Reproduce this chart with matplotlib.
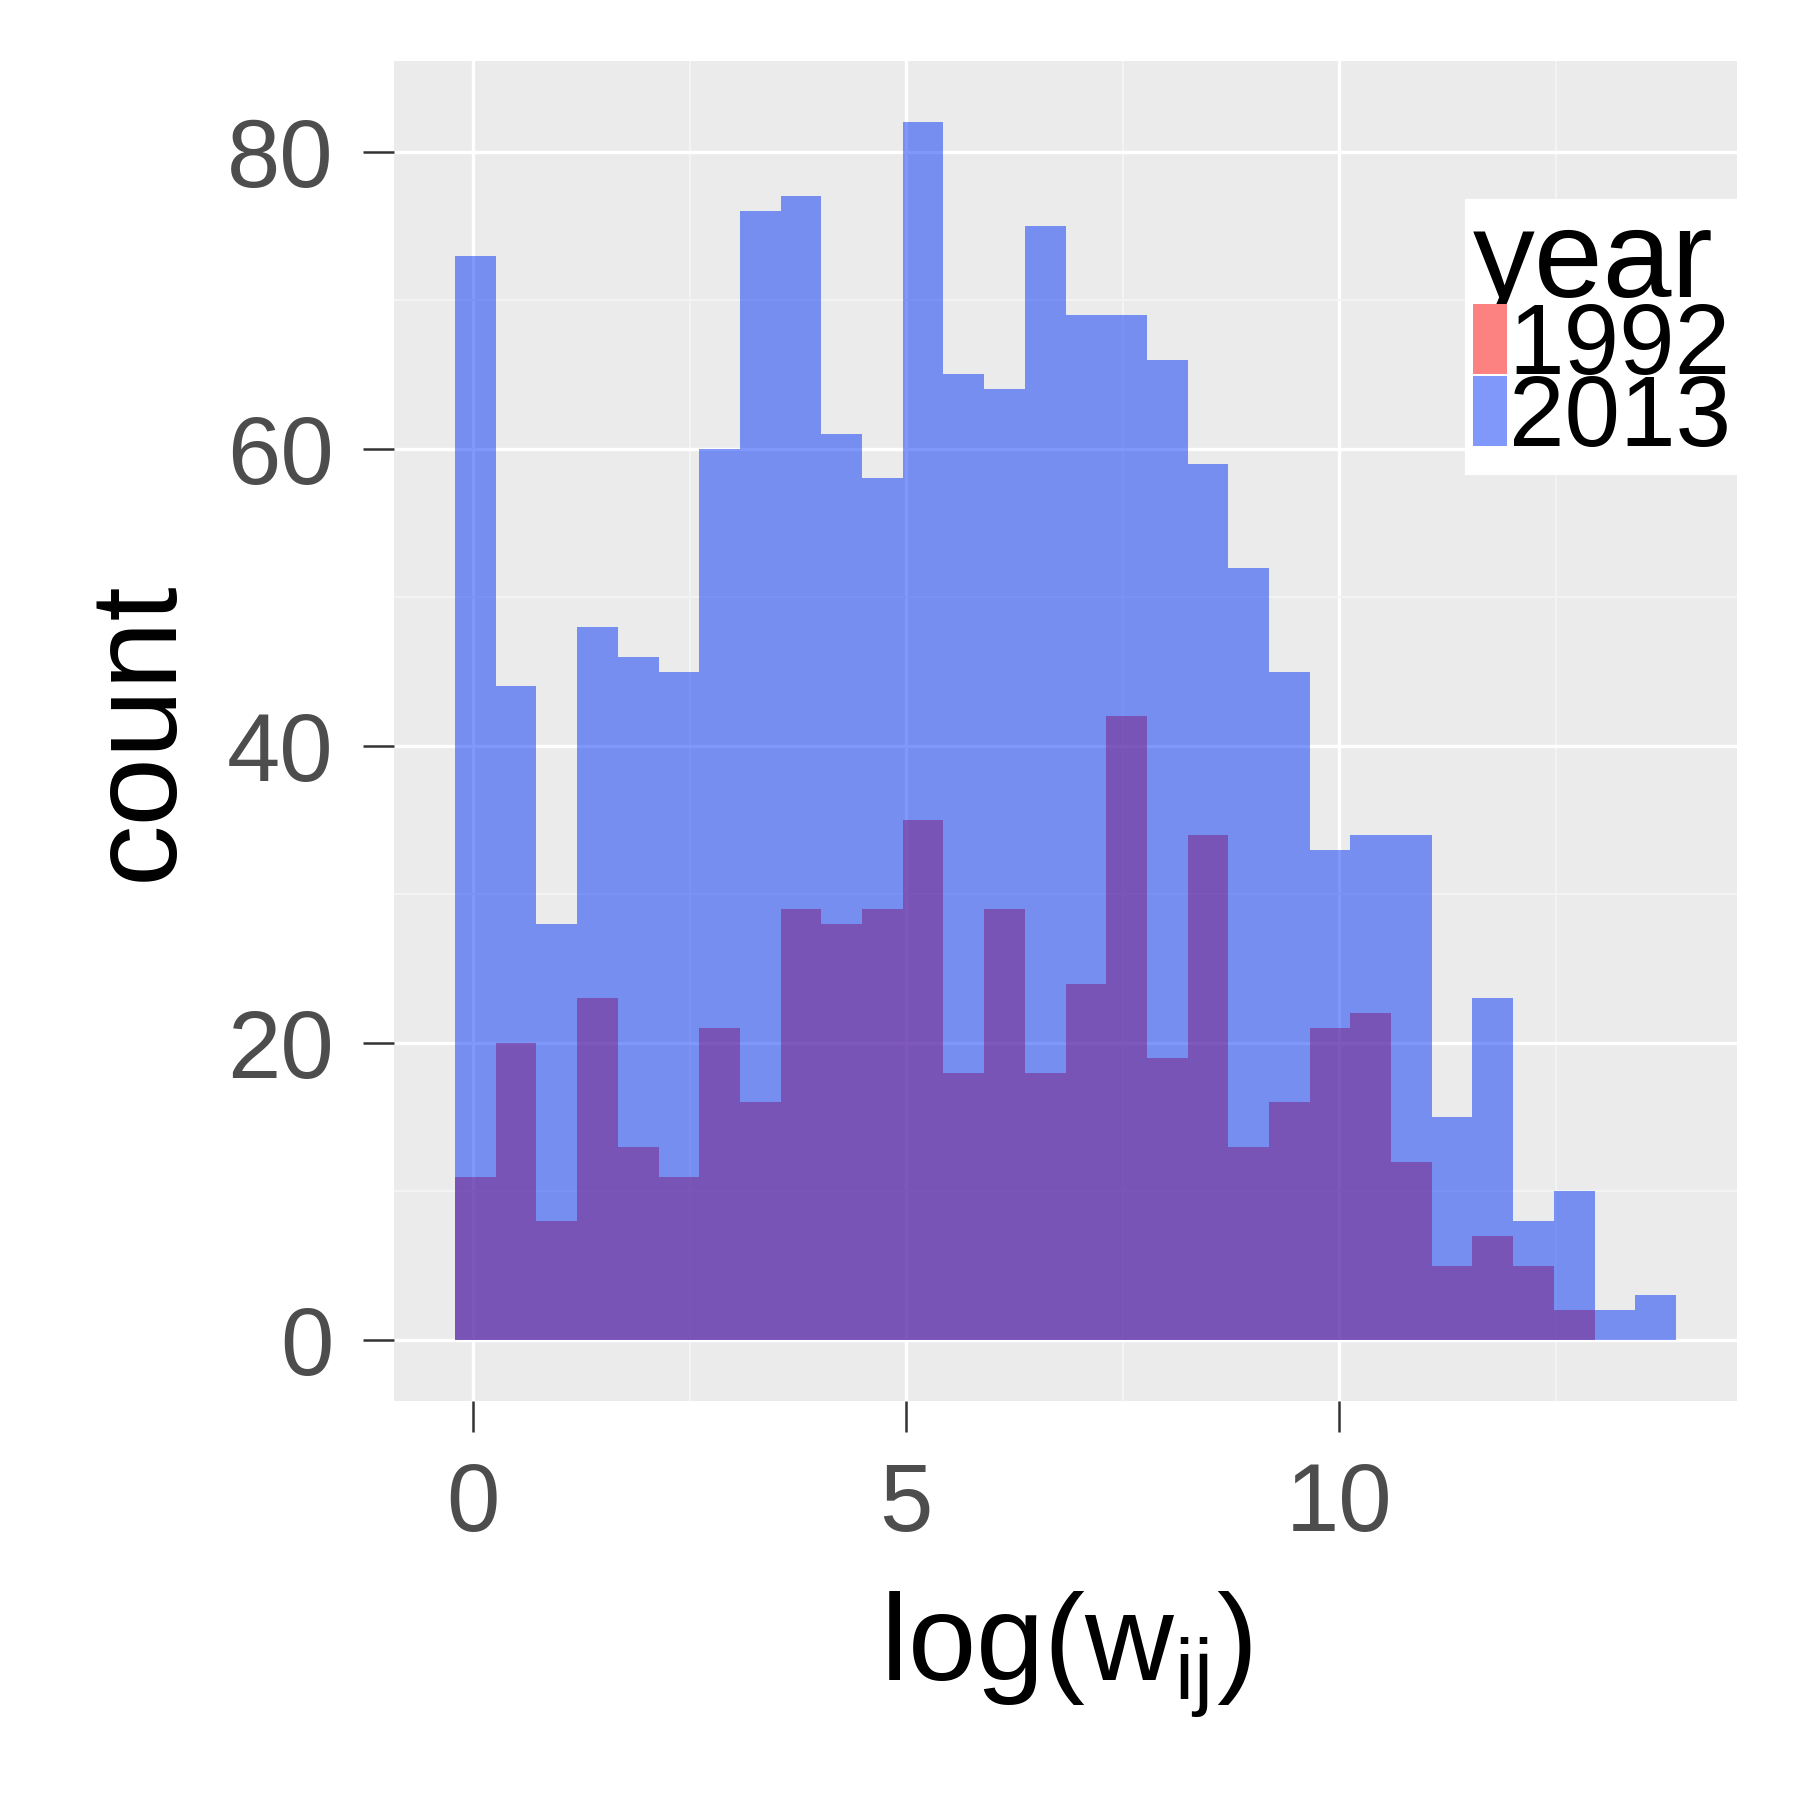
import matplotlib
matplotlib.use("Agg")
import matplotlib.pyplot as plt
from matplotlib.patches import Patch
import numpy as np

plt.rcParams['font.family'] = ['Liberation Sans', 'DejaVu Sans']
plt.rcParams['mathtext.fontset'] = 'custom'
plt.rcParams['mathtext.rm'] = 'Liberation Sans'
plt.rcParams['mathtext.it'] = 'Liberation Sans'

# histogramme : 30 classes, largeur 0.47
bin_start = -0.21
bin_width = 0.47
edges = bin_start + bin_width * np.arange(31)

counts_1992 = [11, 20, 8, 23, 13, 11, 21, 16, 29, 28, 29, 35, 18, 29, 18,
               24, 42, 19, 34, 13, 16, 21, 22, 12, 5, 7, 5, 2, 0, 0]
counts_2013 = [73, 44, 28, 48, 46, 45, 60, 76, 77, 61, 58, 82, 65, 64, 75,
               69, 69, 66, 59, 52, 45, 33, 34, 34, 15, 23, 8, 10, 2, 3]

years = ["1992", "2013"]
colors = ["#FA0505", "#0032F5"]
key_colors = ["#FC8282", "#8098FA"]  # couleurs avec alpha sur fond blanc
alpha = 0.5

fig = plt.figure(figsize=(6, 6), dpi=300)
ax = fig.add_axes([0.2189, 0.2217, 0.7461, 0.7444])
ax.set_facecolor("#EBEBEB")

for counts, col in zip([counts_1992, counts_2013], colors):
    ax.bar(edges[:-1], counts, width=bin_width, align='edge',
           color=col, alpha=alpha, linewidth=0, zorder=3)

ax.set_xlim(-0.915, 14.595)
ax.set_ylim(-4.1, 86.1)
ax.set_xticks([0, 5, 10])
ax.set_yticks([0, 20, 40, 60, 80])
ax.set_xticks([2.5, 7.5, 12.5], minor=True)
ax.set_yticks([10, 30, 50, 70], minor=True)
ax.grid(which='major', color='white', linewidth=0.8, zorder=1)
ax.grid(which='minor', color='#F5F5F5', linewidth=0.4, zorder=1)
ax.set_axisbelow(True)
for s in ax.spines.values():
    s.set_visible(False)

ax.tick_params(which='major', length=7.5, width=0.6, color='#333333',
               labelsize=23, labelcolor='#4D4D4D', pad=7)
ax.tick_params(which='minor', length=0)

ax.set_xlabel(r'$\mathregular{log(w_{ij})}$', fontsize=29.5, labelpad=9)
ax.set_ylabel('count', fontsize=29.5, labelpad=7.2)

handles = [Patch(facecolor=c, linewidth=0) for c in key_colors]
leg = ax.legend(handles, years, title='year', loc='upper right',
                bbox_to_anchor=(1.0, 0.8955), borderaxespad=0,
                fontsize=24, title_fontsize=29.7, alignment='left',
                frameon=True, fancybox=False, framealpha=1,
                edgecolor='white', facecolor='white',
                handlelength=0.34, handleheight=0.69, handletextpad=0.02,
                labelspacing=-0.22, borderpad=0.06)

fig.savefig("out.png", dpi=300)
